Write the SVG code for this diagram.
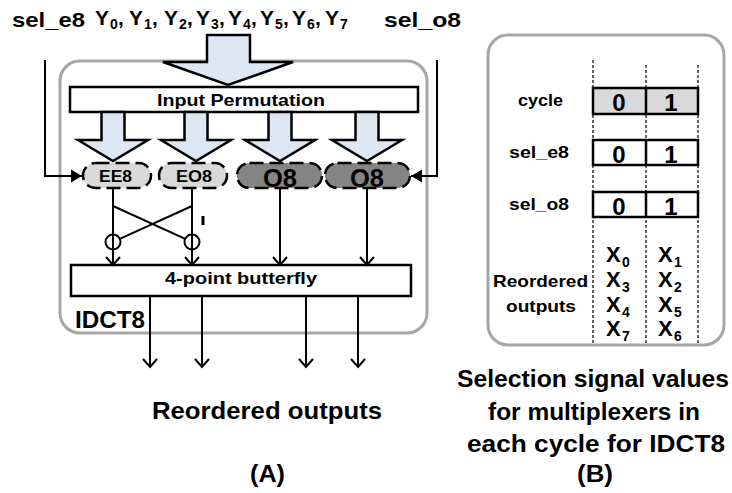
<svg xmlns="http://www.w3.org/2000/svg" width="732" height="493" viewBox="0 0 732 493">
  <style>
    text { font-family: "Liberation Sans", Arial, sans-serif; font-weight: bold; fill: #000; }
    .frame { fill: none; stroke: #a6a6a6; stroke-width: 3; }
    .blk { fill: #fff; stroke: #000; stroke-width: 2.5; }
    .wire { fill: none; stroke: #000; stroke-width: 2; }
    .fat { fill: #dde6f3; stroke: #000; stroke-width: 2.5; stroke-linejoin: miter; }
    .pill { stroke: #000; stroke-width: 2.5; stroke-dasharray: 14 6; }
    .light { fill: #d9d9d9; }
    .dark { fill: #858585; }
    .grid { stroke: #000; stroke-width: 1.2; stroke-dasharray: 3 2; }
    .cell { stroke: #000; stroke-width: 2.5; }
    .sub { font-size: 14px; }
  </style>
  <defs>
    <marker id="open" markerUnits="userSpaceOnUse" markerWidth="20" markerHeight="20" viewBox="-10 -10 20 20" refX="0" refY="0" orient="auto">
      <path d="M-8,-7 L0,0 L-8,7" fill="none" stroke="#000" stroke-width="2"/>
    </marker>
    <marker id="solid" markerUnits="userSpaceOnUse" markerWidth="20" markerHeight="20" viewBox="-12 -10 20 20" refX="0" refY="0" orient="auto">
      <path d="M-11,-6.5 L0,0 L-11,6.5 Z" fill="#000"/>
    </marker>
  </defs>

  <!-- top labels -->
  <text x="12" y="27" font-size="21" textLength="73" lengthAdjust="spacingAndGlyphs">sel_e8</text>
  <text x="384" y="27" font-size="21" textLength="77" lengthAdjust="spacingAndGlyphs">sel_o8</text>
  <text font-size="21" y="25">
    <tspan x="95" y="25">Y</tspan><tspan class="sub" x="110" y="29">0</tspan><tspan x="118" y="25">,</tspan>
    <tspan x="129" y="25">Y</tspan><tspan class="sub" x="144" y="29">1</tspan><tspan x="152" y="25">,</tspan>
    <tspan x="164" y="25">Y</tspan><tspan class="sub" x="179" y="29">2</tspan><tspan x="187" y="25">,</tspan>
    <tspan x="196" y="25">Y</tspan><tspan class="sub" x="211" y="29">3</tspan><tspan x="219" y="25">,</tspan>
    <tspan x="228" y="25">Y</tspan><tspan class="sub" x="243" y="29">4</tspan><tspan x="251" y="25">,</tspan>
    <tspan x="260" y="25">Y</tspan><tspan class="sub" x="275" y="29">5</tspan><tspan x="283" y="25">,</tspan>
    <tspan x="292" y="25">Y</tspan><tspan class="sub" x="307" y="29">6</tspan><tspan x="315" y="25">,</tspan>
    <tspan x="325" y="25">Y</tspan><tspan class="sub" x="340" y="29">7</tspan>
  </text>

  <!-- IDCT8 frame -->
  <rect class="frame" x="60" y="61" width="367" height="272" rx="20"/>
  <text x="75" y="328" font-size="23" textLength="70" lengthAdjust="spacingAndGlyphs">IDCT8</text>

  <!-- input bus arrow -->
  <polygon class="fat" points="207,35 250,35 250,62 293,62 228,85 163,62 207,62"/>

  <g id="input-permutation">
    <rect class="blk" x="70" y="87" width="348" height="25"/>
    <text x="157" y="106" font-size="17" textLength="168" lengthAdjust="spacingAndGlyphs">Input Permutation</text>
  </g>

  <!-- fan-out arrows -->
  <polygon class="fat" points="101.5,112 124.5,112 124.5,140 148,140 113,161 78,140 101.5,140"/>
  <polygon class="fat" points="184.5,112 207.5,112 207.5,140 231,140 196,161 161,140 184.5,140"/>
  <polygon class="fat" points="268.5,112 291.5,112 291.5,140 315,140 280,161 245,140 268.5,140"/>
  <polygon class="fat" points="355.5,112 378.5,112 378.5,140 402,140 367,161 332,140 355.5,140"/>

  <g id="ee8">
    <rect class="pill light" x="83" y="163" width="68" height="25" rx="12.5"/>
    <text x="99" y="182" font-size="17" textLength="33" lengthAdjust="spacingAndGlyphs">EE8</text>
  </g>
  <g id="eo8">
    <rect class="pill light" x="159" y="163" width="68" height="25" rx="12.5"/>
    <text x="176" y="182" font-size="17" textLength="36" lengthAdjust="spacingAndGlyphs">EO8</text>
  </g>
  <g id="o8-a">
    <rect class="pill dark" x="237" y="163" width="85" height="25" rx="12.5"/>
    <text x="263" y="187" font-size="26" font-weight="normal" textLength="34" lengthAdjust="spacingAndGlyphs">O8</text>
  </g>
  <g id="o8-b">
    <rect class="pill dark" x="325" y="163" width="85" height="25" rx="12.5"/>
    <text x="350" y="187" font-size="26" font-weight="normal" textLength="34" lengthAdjust="spacingAndGlyphs">O8</text>
  </g>

  <g id="butterfly">
    <rect class="blk" x="71" y="265" width="340" height="31"/>
    <text x="165" y="284" font-size="17" textLength="152" lengthAdjust="spacingAndGlyphs">4-point butterfly</text>
  </g>

  <g id="connectors">
    <!-- select signals -->
    <polyline class="wire" points="45,60 45,176 82,176" marker-end="url(#solid)"/>
    <polyline class="wire" points="437,60 437,176 411,176" marker-end="url(#solid)"/>
    <!-- node outputs into the butterfly -->
    <line class="wire" x1="113" y1="188" x2="113" y2="265" marker-end="url(#open)"/>
    <line class="wire" x1="192" y1="188" x2="192" y2="265" marker-end="url(#open)"/>
    <line class="wire" x1="280" y1="188" x2="280" y2="265" marker-end="url(#open)"/>
    <line class="wire" x1="367" y1="188" x2="367" y2="265" marker-end="url(#open)"/>
    <!-- crossing paths and adders -->
    <line class="wire" x1="113" y1="206" x2="185.2" y2="238.9"/>
    <line class="wire" x1="192" y1="206" x2="119.8" y2="238.9"/>
    <circle class="wire" cx="113" cy="242" r="7.5"/>
    <circle class="wire" cx="192" cy="242" r="7.5"/>
    <line x1="203" y1="216" x2="203" y2="225" stroke="#000" stroke-width="3"/>
    <!-- outputs -->
    <line class="wire" x1="150" y1="296" x2="150" y2="367" marker-end="url(#open)"/>
    <line class="wire" x1="202" y1="296" x2="202" y2="367" marker-end="url(#open)"/>
    <line class="wire" x1="306" y1="296" x2="306" y2="367" marker-end="url(#open)"/>
    <line class="wire" x1="358" y1="296" x2="358" y2="367" marker-end="url(#open)"/>
  </g>

  <text x="152" y="419" font-size="23" textLength="230" lengthAdjust="spacingAndGlyphs">Reordered outputs</text>
  <text x="250" y="482" font-size="23" textLength="35" lengthAdjust="spacingAndGlyphs">(A)</text>

  <!-- selection table -->
  <g id="selection-table">
    <rect class="frame" x="488" y="35" width="236" height="310" rx="20"/>
    <line class="grid" x1="593" y1="60" x2="593" y2="345"/>
    <line class="grid" x1="646" y1="65" x2="646" y2="345"/>
    <line class="grid" x1="698" y1="65" x2="698" y2="345"/>

    <rect class="cell light" x="593" y="88" width="105" height="26"/>
    <line class="cell" x1="646" y1="88" x2="646" y2="114"/>
    <rect class="cell" fill="#fff" x="593" y="140" width="105" height="25"/>
    <line class="cell" x1="646" y1="140" x2="646" y2="165"/>
    <rect class="cell" fill="#fff" x="593" y="192" width="105" height="25"/>
    <line class="cell" x1="646" y1="192" x2="646" y2="217"/>

    <g font-size="24" text-anchor="middle">
      <text x="619" y="111">0</text><text x="671" y="111">1</text>
      <text x="619" y="163">0</text><text x="671" y="163">1</text>
      <text x="619" y="215">0</text><text x="671" y="215">1</text>
    </g>

    <text x="518" y="106" font-size="17" textLength="45" lengthAdjust="spacingAndGlyphs">cycle</text>
    <text x="509" y="158" font-size="17" textLength="60" lengthAdjust="spacingAndGlyphs">sel_e8</text>
    <text x="509" y="210" font-size="17" textLength="60" lengthAdjust="spacingAndGlyphs">sel_o8</text>
    <text x="493" y="287" font-size="17" textLength="95" lengthAdjust="spacingAndGlyphs">Reordered</text>
    <text x="506" y="312" font-size="17" textLength="70" lengthAdjust="spacingAndGlyphs">outputs</text>

    <g font-size="22">
      <text x="606" y="262">X<tspan class="sub" x="622" y="267">0</tspan></text>
      <text x="606" y="287">X<tspan class="sub" x="622" y="292">3</tspan></text>
      <text x="606" y="312">X<tspan class="sub" x="622" y="317">4</tspan></text>
      <text x="606" y="336">X<tspan class="sub" x="622" y="341">7</tspan></text>
      <text x="658" y="262">X<tspan class="sub" x="674" y="267">1</tspan></text>
      <text x="658" y="287">X<tspan class="sub" x="674" y="292">2</tspan></text>
      <text x="658" y="312">X<tspan class="sub" x="674" y="317">5</tspan></text>
      <text x="658" y="336">X<tspan class="sub" x="674" y="341">6</tspan></text>
    </g>
  </g>

  <text x="457" y="387" font-size="24" textLength="272" lengthAdjust="spacingAndGlyphs">Selection signal values</text>
  <text x="488" y="420" font-size="24" textLength="212" lengthAdjust="spacingAndGlyphs">for multiplexers in</text>
  <text x="467" y="452" font-size="24" textLength="258" lengthAdjust="spacingAndGlyphs">each cycle for IDCT8</text>
  <text x="577" y="482" font-size="23" textLength="36" lengthAdjust="spacingAndGlyphs">(B)</text>
</svg>
